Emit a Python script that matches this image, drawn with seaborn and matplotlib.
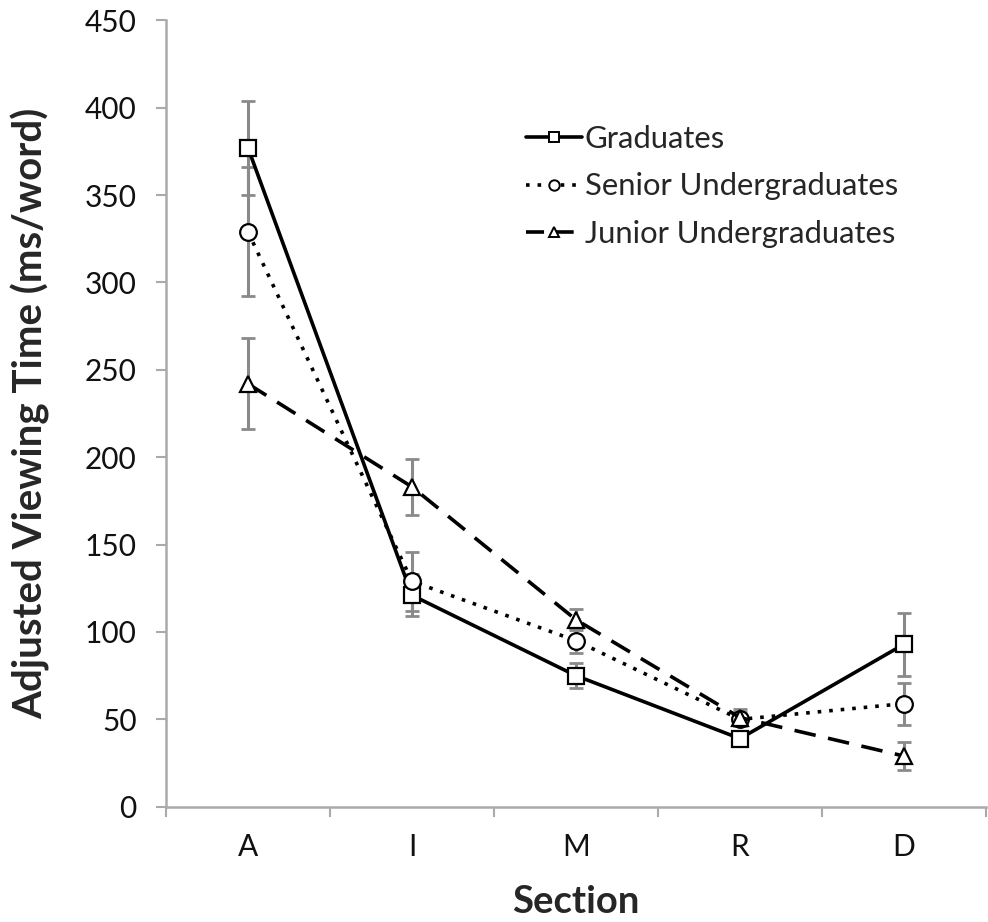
import matplotlib
matplotlib.use("Agg")
import matplotlib.pyplot as plt
import seaborn as sns
import pandas as pd
import numpy as np
from matplotlib.lines import Line2D

sections = ["A", "I", "M", "R", "D"]
groups = ["Graduates", "Senior Undergraduates", "Junior Undergraduates"]
graduates = [377, 121, 75, 39, 93]
graduates_err = [27, 12, 7, 4, 18]
senior = [329, 129, 95, 50, 59]
senior_err = [37, 17, 7, 4, 12]
junior = [242, 183, 107, 51, 29]
junior_err = [26, 16, 6, 5, 8]
yticks = [0, 50, 100, 150, 200, 250, 300, 350, 400, 450]

sns.set_theme(style="white")
plt.rcParams['font.family'] = ['Lato', 'DejaVu Sans']

rows = []
for g, vals, errs in zip(groups, [graduates, senior, junior],
                         [graduates_err, senior_err, junior_err]):
    for i, (s, v, e) in enumerate(zip(sections, vals, errs)):
        rows.append({"group": g, "section": s, "pos": i, "value": v, "err": e})
df = pd.DataFrame(rows)

fig = plt.figure(figsize=(9.88, 9.22), dpi=100)
ax = fig.add_axes([0.168, 0.125, 0.83, 0.853])

for g in groups:
    d = df[df.group == g]
    _, caps, bars = ax.errorbar(d.pos, d.value, yerr=d.err, fmt='none',
                                ecolor='#8a8a8a', elinewidth=2.2, capsize=5,
                                capthick=2, zorder=2)
    for c in caps:
        c.set_color('#333333')

sns.lineplot(data=df, x="pos", y="value", style="group", hue="group",
             palette={g: "black" for g in groups},
             dashes={"Graduates": "", "Senior Undergraduates": (1, 2.2),
                     "Junior Undergraduates": (6, 3.5)},
             markers={"Graduates": "s", "Senior Undergraduates": "o",
                      "Junior Undergraduates": "^"},
             markersize=12, markerfacecolor="white", markeredgecolor="black",
             markeredgewidth=1.6, linewidth=2.6, ax=ax, zorder=3, legend=False)

ax.set_xlim(-0.5, 4.5)
ax.set_ylim(0, 450)
ax.set_yticks(yticks)
ax.set_yticklabels([str(t) for t in yticks], fontsize=21.5, color='#111111')
ax.set_xticks(np.arange(-0.5, 4.6, 1.0))
ax.set_xticklabels([])
ax.set_xticks(range(len(sections)), minor=True)
ax.set_xticklabels(sections, minor=True, fontsize=21.5, color='#111111')
ax.tick_params(axis='x', which='minor', length=0, pad=19)
ax.tick_params(axis='x', which='major', length=7, width=1.5, color='#aaaaaa',
               direction='out', bottom=True)
ax.tick_params(axis='y', length=7, width=1.5, color='#aaaaaa', direction='out',
               left=True, pad=14)
for side in ['top', 'right']:
    ax.spines[side].set_visible(False)
for side in ['left', 'bottom']:
    ax.spines[side].set_color('#aaaaaa')
    ax.spines[side].set_linewidth(1.8)

ax.set_xlabel("Section", fontsize=27.5, fontweight='bold')
ax.set_ylabel("Adjusted Viewing Time (ms/word)", fontsize=29, fontweight='bold')
ax.yaxis.set_label_coords(-0.141, 0.5)
ax.xaxis.set_label_coords(0.5, -0.099)

handles = [
    Line2D([], [], color='black', lw=2.6, marker='s', markersize=7.5,
           markerfacecolor='white', markeredgecolor='black', markeredgewidth=1.4),
    Line2D([], [], color='black', lw=2.6, linestyle=(0, (1, 2.2)), marker='o',
           markersize=7.5, markerfacecolor='white', markeredgecolor='black',
           markeredgewidth=1.4),
    Line2D([], [], color='black', lw=2.6, linestyle=(0, (5, 3.2)), marker='^',
           markersize=7.5, markerfacecolor='white', markeredgecolor='black',
           markeredgewidth=1.4),
]
ax.legend(handles, groups, loc='upper left', bbox_to_anchor=(0.405, 0.902),
          frameon=False, fontsize=22.3, handlelength=1.8, handletextpad=0.1,
          labelspacing=0.62)

fig.savefig("out.png", dpi=100)
